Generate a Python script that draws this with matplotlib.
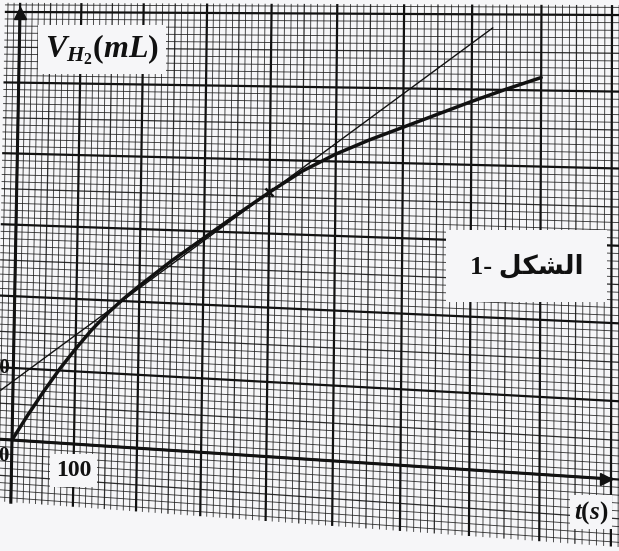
import numpy as np
import matplotlib
matplotlib.use("Agg")
import matplotlib.pyplot as plt
from matplotlib.collections import LineCollection
from matplotlib.transforms import Transform
from matplotlib.path import Path

# volume of H2 (t in s, V in mL)
t_s = [0, 25, 50, 75, 100, 125, 150, 175, 200, 250, 300, 350, 400, 450, 500,
       550, 600, 650, 700, 750, 800]
v_ml = [0, 3.6, 7.0, 10.2, 13.1, 15.8, 18.2, 20.3, 22.2, 25.8, 29.1, 32.4, 35.6,
        38.6, 41.0, 43.0, 44.8, 46.6, 48.4, 50.1, 51.7]

# tangent drawn at t = 400 s
tangent_t = [-20, 730]
tangent_v = [6.8, 58.2]
touch_t, touch_v = 400, 35.6

x_ticks = [100]
x_ticklabels = ["100"]
y_ticks = [10]
y_ticklabels = ["10"]

PAGE = "#f6f6f8"
INK = "#111111"

plt.rcParams["mathtext.fontset"] = "custom"
plt.rcParams["mathtext.it"] = "Liberation Serif:italic:bold"
plt.rcParams["mathtext.rm"] = "Liberation Serif:bold"
plt.rcParams["mathtext.bf"] = "Liberation Serif:bold"


class SheetWarp(Transform):
    """projective warp in display space (the sheet is photographed at an angle)"""
    input_dims = output_dims = 2

    def __init__(self, H):
        super().__init__()
        self.H = H

    def transform_non_affine(self, values):
        v = np.asarray(values, dtype=float).reshape(-1, 2)
        p = np.column_stack([v, np.ones(len(v))]) @ self.H.T
        return p[:, :2] / p[:, 2:3]

    def transform_path_non_affine(self, path):
        return Path(self.transform_non_affine(path.vertices), path.codes)


def homography(src, dst):
    rows = []
    for (x, y), (u, w) in zip(src, dst):
        rows.append([x, y, 1, 0, 0, 0, -u * x, -u * y, -u])
        rows.append([0, 0, 0, x, y, 1, -w * x, -w * y, -w])
    _, _, vt = np.linalg.svd(np.array(rows))
    h = vt[-1].reshape(3, 3)
    return h / h[2, 2]


W, Hpx = 619, 551
fig = plt.figure(figsize=(W / 100, Hpx / 100), dpi=100, facecolor=PAGE)
ax = fig.add_axes([0, 0, 1, 1])
ax.set_xlim(-18, 910.5)
ax.set_ylim(-15.6, 61.83)
ax.axis("off")

# where the frame corners of the sheet end up in the image
corners = [(0, 0), (900, 0), (0, 60), (900, 60)]
sheet_px = [(12, 440), (611, 479), (20, 12), (612, 15)]
src = ax.transData.transform(corners)
dst = [(x, Hpx - y) for x, y in sheet_px]
paper = ax.transData + SheetWarp(homography(src, dst))

# millimetre paper
t_lo, t_hi = -25, 915
v_lo, v_hi = -8.6, 61.3
minor, mid, major = [], [], []
for t in range(-20, 911, 10):
    seg = [(t, v_lo), (t, v_hi)]
    (major if t % 100 == 0 else mid if t % 50 == 0 else minor).append(seg)
for v in range(-8, 62):
    seg = [(t_lo, v), (t_hi, v)]
    (major if v % 10 == 0 else mid if v % 5 == 0 else minor).append(seg)

ax.add_collection(LineCollection(minor, colors="#1c1c1c", linewidths=0.65,
                                 alpha=0.85, transform=paper))
ax.add_collection(LineCollection(mid, colors="#161616", linewidths=0.9,
                                 alpha=0.9, transform=paper))
ax.add_collection(LineCollection(major, colors=INK, linewidths=1.6,
                                 transform=paper))

# axes with arrows
ax.plot([0, 0], [v_lo, 60.0], color=INK, lw=2.2, transform=paper, clip_on=False)
ax.plot([t_lo, 900], [0, 0], color=INK, lw=2.2, transform=paper, clip_on=False)
ax.plot([0], [59.9], marker="^", ms=8, color=INK, transform=paper, clip_on=False)
ax.plot([893], [0], marker=">", ms=8, color=INK, transform=paper, clip_on=False)

# curve and tangent
ax.plot(tangent_t, tangent_v, color=INK, lw=1.0, transform=paper, clip_on=False)
ax.plot(t_s, v_ml, color=INK, lw=2.5, transform=paper,
        solid_joinstyle="round", solid_capstyle="round")
ax.plot([touch_t], [touch_v], marker="x", ms=6, mew=1.8, color=INK, transform=paper)

box = dict(boxstyle="square,pad=0.25", fc=PAGE, ec="none")

for t, lab in zip(x_ticks, x_ticklabels):
    ax.text(t, -3.6, lab, ha="center", va="center", fontsize=17,
            family="Liberation Serif", weight="bold", color=INK,
            bbox=box, transform=paper)
for v, lab in zip(y_ticks, y_ticklabels):
    ax.text(-6, v, lab, ha="right", va="center", fontsize=15,
            family="Liberation Serif", weight="bold", color=INK, transform=paper)
ax.text(-5, -2.2, "0", ha="right", va="center", fontsize=15,
        family="Liberation Serif", weight="bold", color=INK, transform=paper)

ax.text(134, 54.8, r"$V_{H_2}(mL)$", ha="center", va="center", fontsize=23,
        color=INK, transform=paper,
        bbox=dict(boxstyle="square,pad=0.22", fc=PAGE, ec="none"))
ax.text(872, -4.4, r"$t(s)$", ha="center", va="center", fontsize=18,
        color=INK, transform=paper,
        bbox=dict(boxstyle="square,pad=0.15", fc=PAGE, ec="none"))

# figure caption, Arabic letters given in their joined forms
caption = "1- " + "\uFEDE\uFEDC\uFEB8\uFEDF\uFE8D"
ax.text(780, 26.9, caption, ha="center", va="center", fontsize=19,
        family=["Liberation Serif", "DejaVu Sans"], weight="bold", color=INK,
        transform=paper,
        bbox=dict(boxstyle="square,pad=0.9", fc=PAGE, ec="none"))

fig.savefig("out.png", dpi=100, facecolor=PAGE)
